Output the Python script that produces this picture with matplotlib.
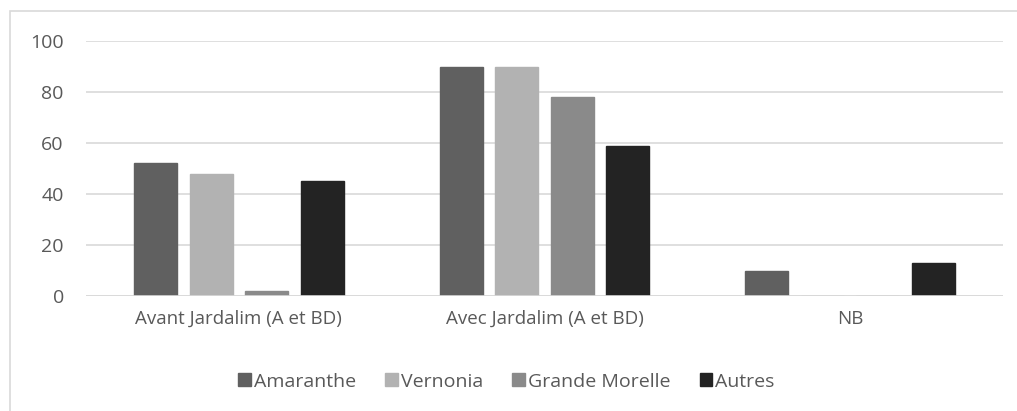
import matplotlib.pyplot as plt
import numpy as np
from matplotlib.patches import Rectangle

categories = ['Avant Jardalim (A et BD)', 'Avec Jardalim (A et BD)', 'NB']
series = ['Amaranthe', 'Vernonia', 'Grande Morelle', 'Autres']
amaranthe = [52, 90, 10]
vernonia = [48, 90, 0]
grande_morelle = [2, 78, 0]
autres = [45, 59, 13]
colors = ['#606060', '#b2b2b2', '#8a8a8a', '#232323']
yticks = [0, 20, 40, 60, 80, 100]

plt.rcParams['font.family'] = ['Open Sans', 'DejaVu Sans']
txt = '#595959'

fig = plt.figure(figsize=(10.17, 4.11), dpi=100)
ax = fig.add_axes([0.0846, 0.2798, 0.9016, 0.6204])

# chart frame like the spreadsheet export
fig.patches.append(Rectangle((10 / 1017, -0.05), 1.1, 1 - 11 / 411 + 0.05,
                             transform=fig.transFigure, fill=False,
                             edgecolor='#d9d9d9', linewidth=1.2))

x = np.arange(len(categories))
bw = 0.1407
step = 0.1816
vals = [amaranthe, vernonia, grande_morelle, autres]
for i, (name, v) in enumerate(zip(series, vals)):
    ax.bar(x + (i - 1.5) * step, v, width=bw, color=colors[i],
           edgecolor=colors[i], label=name, zorder=3)

ax.set_xlim(-0.5, 2.5)
ax.set_ylim(0, 100)
ax.set_yticks(yticks)
ax.set_xticks(x)
ax.set_xticklabels(categories, fontsize=13.5)
ax.grid(axis='y', color='#d9d9d9', linewidth=1.2, zorder=0)
for s in ['top', 'right', 'left', 'bottom']:
    ax.spines[s].set_visible(False)
ax.axhline(0, color='#d9d9d9', linewidth=1.2, zorder=4)
ax.tick_params(length=0, labelsize=14, colors=txt)
ax.tick_params(axis='y', pad=16)
ax.tick_params(axis='x', pad=10, labelsize=13.5)

leg = fig.legend(loc='center', bbox_to_anchor=(0.498, 0.071), ncol=4,
                 frameon=False, fontsize=14, handlelength=0.65,
                 handleheight=0.65, handletextpad=0.15, columnspacing=1.5)
for t in leg.get_texts():
    t.set_color(txt)

fig.savefig('out.png', dpi=100)
